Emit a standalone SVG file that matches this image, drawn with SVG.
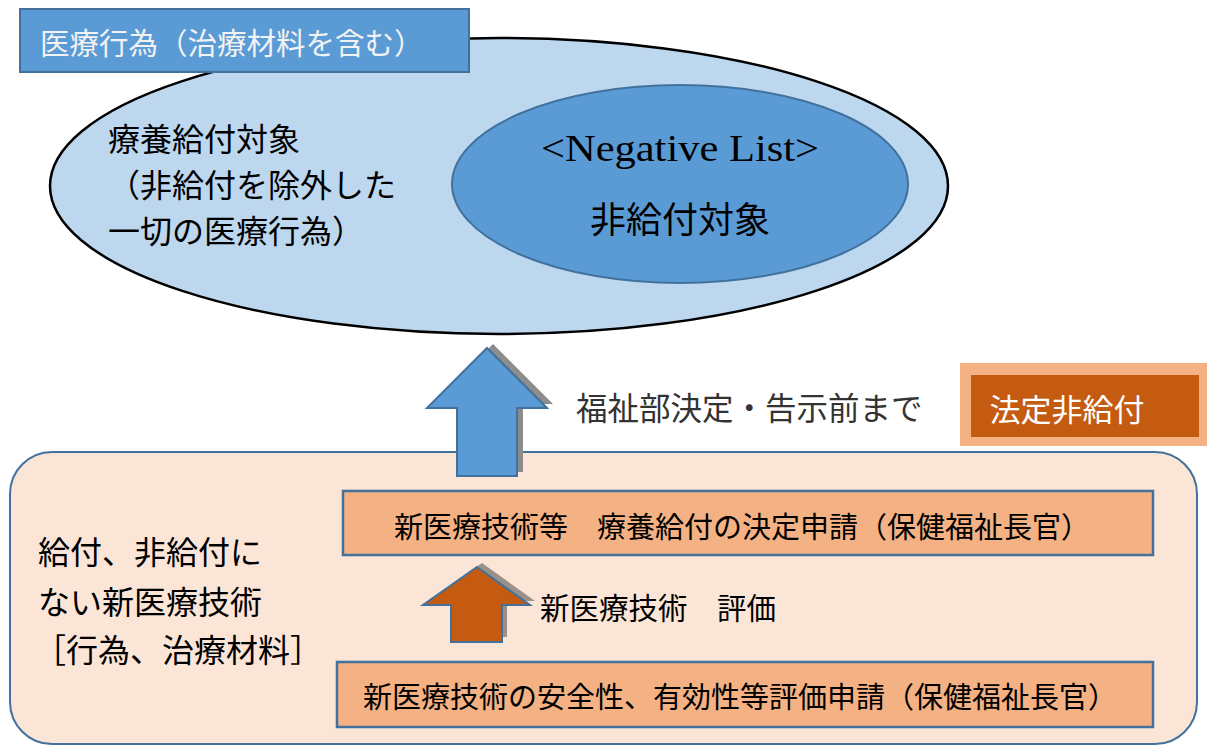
<svg xmlns="http://www.w3.org/2000/svg" width="1208" height="747" viewBox="0 0 1208 747">
<style>
.jp{font-family:"Noto Sans CJK JP","Noto Sans CJK SC",sans-serif;}
.blk{fill:#000;}
.wht{fill:#fff;}
.box{fill:#F4B183;stroke:#41719C;stroke-width:2.5;}
</style>
<rect width="1208" height="747" fill="#fff"/>
<g id="outer-ellipse">
<ellipse cx="499" cy="186" rx="449" ry="148" fill="#BDD7EE" stroke="#000" stroke-width="2.5"/>
<text class="jp blk" font-size="32" x="108" y="151">療養給付対象</text>
<text class="jp blk" font-size="32" x="108" y="197">（非給付を除外した</text>
<text class="jp blk" font-size="32" x="108" y="243">一切の医療行為）</text>
</g>
<g id="label-top">
<rect x="20" y="9" width="449" height="63" fill="#5B9BD5" stroke="#41719C" stroke-width="2"/>
<text class="jp" fill="#f2f2f2" font-size="29.5" x="40" y="54">医療行為（治療材料を含む）</text>
</g>
<g id="negative-list">
<ellipse cx="680" cy="184" rx="228" ry="99" fill="#5B9BD5" stroke="#41719C" stroke-width="2"/>
<text font-family="Liberation Serif,serif" font-size="38" x="541" y="161" textLength="278" lengthAdjust="spacingAndGlyphs" fill="#000">&lt;Negative List&gt;</text>
<text class="jp blk" font-size="36" x="680" y="233" text-anchor="middle">非給付対象</text>
</g>
<g id="container">
<rect x="10" y="452" width="1187" height="292" rx="42" ry="42" fill="#FBE5D6" stroke="#41719C" stroke-width="2"/>
<text class="jp blk" font-size="32" x="38" y="564">給付、非給付に</text>
<text class="jp blk" font-size="32" x="38" y="614">ない新医療技術</text>
<text class="jp blk" font-size="32" x="34" y="662">［行為、治療材料］</text>
</g>
<g id="connectors">
<polygon points="493,344 553,404 523,404 523,472 462,472 462,404 432,404" fill="#8c8c8c"/>
<polygon points="487,348 547,408 517,408 517,476 457,476 457,408 427,408" fill="#5B9BD5" stroke="#41719C" stroke-width="2"/>
<polygon points="482,563 535,601 507,601 507,637 456,637 456,601 428,601" fill="#999089"/>
<polygon points="477,567 530,605 502,605 502,642 451,642 451,605 423,605" fill="#C55A11" stroke="#41719C" stroke-width="2"/>
<text class="jp" fill="#333" font-size="31.5" x="576" y="420">福祉部決定・告示前まで</text>
<text class="jp blk" font-size="29.5" x="540" y="619">新医療技術　評価</text>
</g>
<g id="legal-nonpay">
<rect x="960" y="363" width="247" height="83" fill="#F4B183"/>
<rect x="971" y="375" width="228" height="62" fill="#C55A11"/>
<text class="jp wht" font-size="31" x="1067" y="421" text-anchor="middle">法定非給付</text>
</g>
<g id="box-decision">
<rect class="box" x="343" y="491" width="810" height="64"/>
<text class="jp blk" font-size="29" x="742" y="538" text-anchor="middle">新医療技術等　療養給付の決定申請（保健福祉長官）</text>
</g>
<g id="box-evaluation">
<rect class="box" x="337" y="662" width="816" height="65"/>
<text class="jp blk" font-size="29" x="740" y="708" text-anchor="middle">新医療技術の安全性、有効性等評価申請（保健福祉長官）</text>
</g>
</svg>
